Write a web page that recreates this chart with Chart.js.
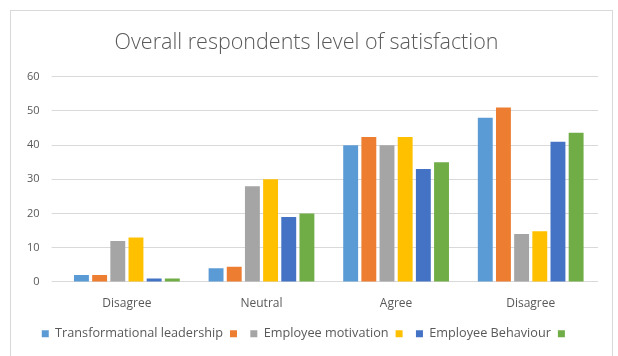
<!DOCTYPE html>
<html>
<head>
<meta charset="utf-8">
<script src="https://cdn.jsdelivr.net/npm/chart.js@4"></script>
<style>
  html, body { margin: 0; padding: 0; background: #fff; }
  #frame { position: absolute; left: 10px; top: 10px; width: 601px; height: 360px; border: 1px solid #d9d9d9; }
  #wrap { position: absolute; left: 0; top: 0; width: 618px; height: 356px; }
</style>
</head>
<body>
<div id="frame"></div>
<div id="wrap"><canvas id="chart"></canvas></div>
<script>
// categories and series
const categories = ['Disagree', 'Neutral', 'Agree', 'Disagree'];
const seriesNames = ['Transformational leadership', '', 'Employee motivation', '', 'Employee Behaviour', ''];
const seriesColors = ['#5B9BD5', '#ED7D31', '#A5A5A5', '#FFC000', '#4472C4', '#70AD47'];
const transformational = [2, 4, 40, 48];
const orangeSeries = [2, 4.4, 42.4, 51];
const motivation = [12, 28, 40, 14];
const yellowSeries = [13, 30, 42.4, 14.8];
const behaviour = [1, 19, 33, 41];
const greenSeries = [1, 20, 35, 43.6];

const seriesValues = [transformational, orangeSeries, motivation, yellowSeries, behaviour, greenSeries];

const ctx = document.getElementById('chart').getContext('2d');
const chart = new Chart(ctx, {
  type: 'bar',
  data: {
    labels: categories,
    datasets: seriesValues.map((vals, i) => ({
      label: seriesNames[i],
      data: vals,
      backgroundColor: seriesColors[i],
      categoryPercentage: 0.81,
      barPercentage: 0.82
    }))
  },
  options: {
    responsive: true,
    maintainAspectRatio: false,
    animation: false,
    layout: { padding: { left: 15, right: 20, bottom: 6 } },
    plugins: {
      title: {
        display: true,
        text: 'Overall respondents level of satisfaction',
        color: '#595959',
        font: { family: 'Open Sans', size: 21.5, weight: '300' },
        padding: { top: 30, bottom: 21 }
      },
      legend: {
        position: 'bottom',
        labels: {
          color: '#595959',
          font: { family: 'Open Sans', size: 12.7 },
          boxWidth: 7,
          boxHeight: 7,
          padding: 7
        }
      },
      tooltip: { enabled: false }
    },
    scales: {
      x: {
        grid: { display: false },
        border: { display: false },
        ticks: { color: '#595959', font: { family: 'Open Sans', size: 12 }, padding: 6 },
        afterFit: (scale) => { scale.height += 4; }
      },
      y: {
        min: 0,
        max: 60,
        ticks: { stepSize: 10, color: '#595959', font: { family: 'Open Sans', size: 11 }, padding: 12 },
        grid: { color: '#d9d9d9' },
        border: { display: false }
      }
    }
  }
});
</script>
</body>
</html>
